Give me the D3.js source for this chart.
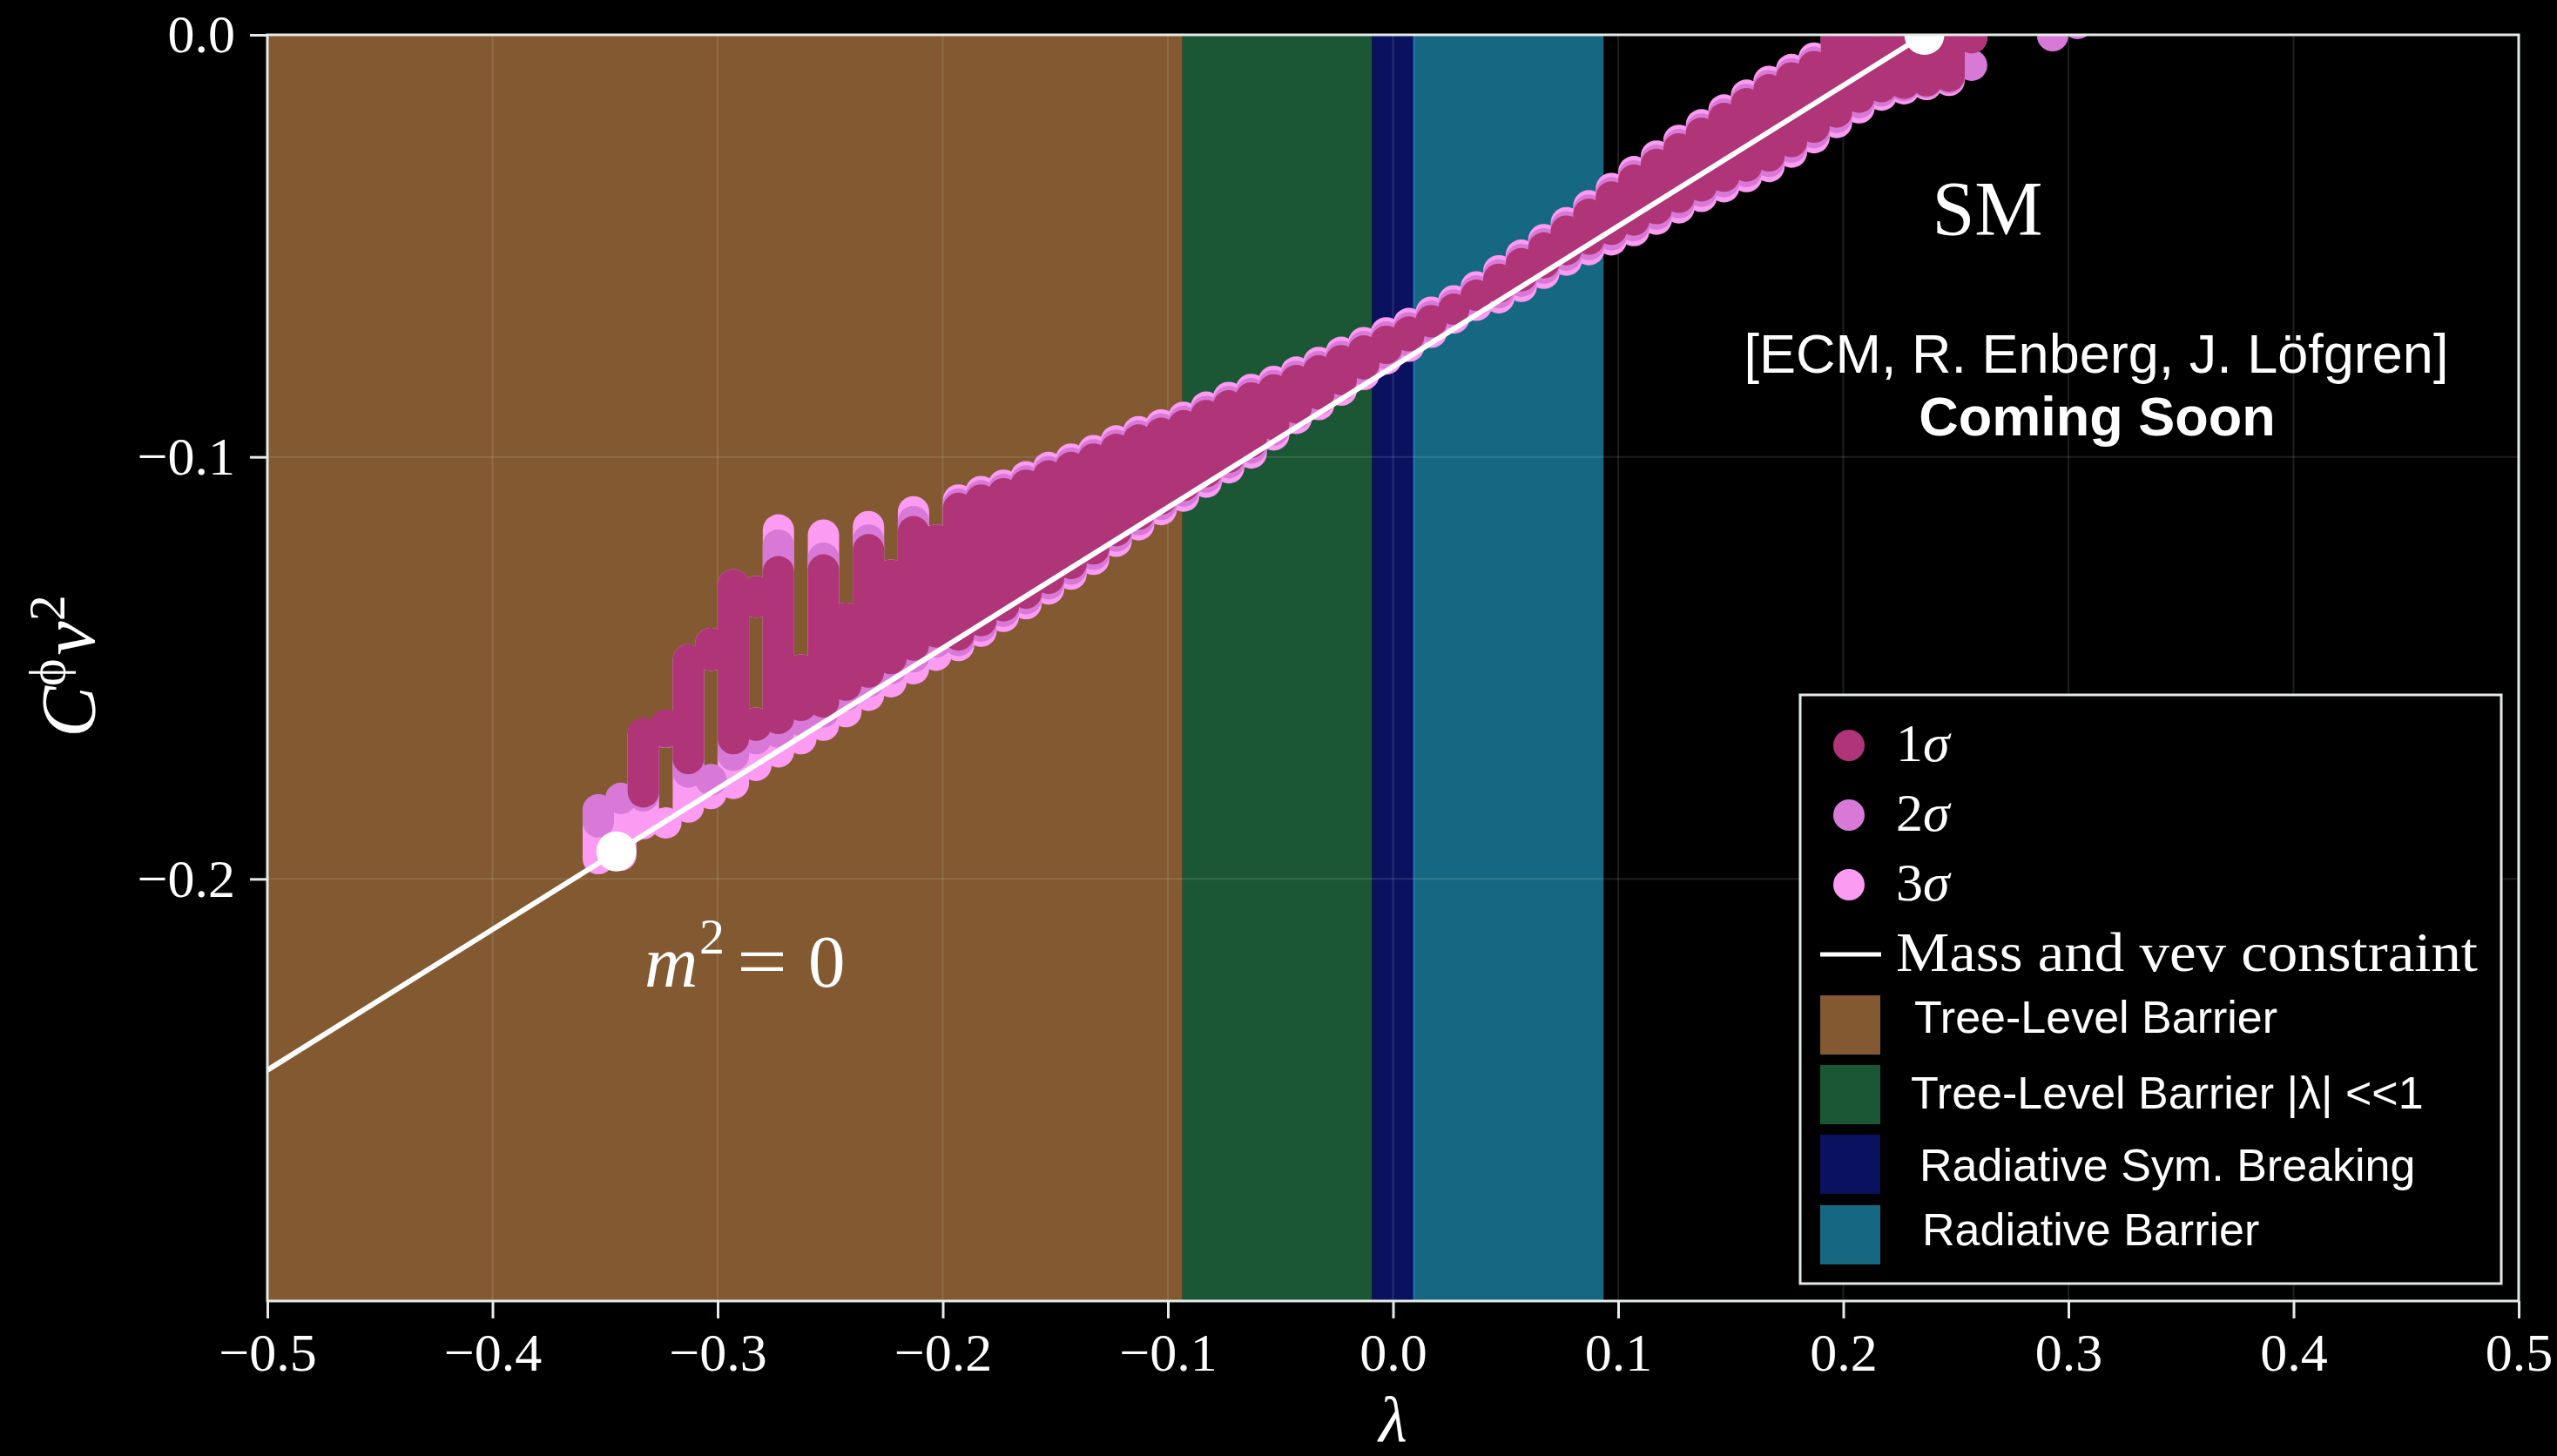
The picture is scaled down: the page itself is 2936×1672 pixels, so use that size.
<!DOCTYPE html>
<html>
<head>
<meta charset="utf-8">
<script src="https://cdn.jsdelivr.net/npm/d3@7"></script>
<style>
  html, body { margin: 0; padding: 0; background: #000; }
  svg { display: block; }
</style>
</head>
<body>
<svg id="chart" width="2936" height="1672"></svg>
<script>
// ---- axis ticks ----
const xTicks = [-0.5, -0.4, -0.3, -0.2, -0.1, 0.0, 0.1, 0.2, 0.3, 0.4, 0.5];
const yTicks = [0.0, -0.1, -0.2];

// ---- shaded regimes along λ ----
const regionNames = ["Tree-Level Barrier", "Tree-Level Barrier |λ| <<1", "Radiative Sym. Breaking", "Radiative Barrier"];
const regionFrom  = [-0.5, -0.0935, -0.0093, 0.0093];
const regionTo    = [-0.0935, -0.0093, 0.0093, 0.0935];

// ---- mass and vev constraint ----
const constraintLambda = [-0.5, 0.236];
const constraintC      = [-0.2453, 0.0];

// ---- benchmark points (m^2 = 0 and SM) ----
const benchLambda = [-0.345, 0.236];
const benchC      = [-0.1935, 0.0];

// ---- scan results: [λ, top of point cloud, bottom of point cloud] in C^φ v^2 ----
const sigmaLabels = ["1", "2", "3"];

const sigma3 = [
  [-0.353,-0.1800,-0.1989],[-0.343,-0.1780,-0.1981],[-0.333,-0.1620,-0.1906],
  [-0.323,-0.1600,-0.1690],[-0.323,-0.1830,-0.1885],[-0.313,-0.1444,-0.1867],
  [-0.303,-0.1405,-0.1507],[-0.303,-0.1728,-0.1835],[-0.293,-0.1266,-0.1811],
  [-0.283,-0.1282,-0.1381],[-0.283,-0.1594,-0.1768],[-0.273,-0.1136,-0.1736],
  [-0.263,-0.1468,-0.1705],[-0.253,-0.1148,-0.1673],[-0.243,-0.1345,-0.1641],
  [-0.233,-0.1128,-0.1602],[-0.223,-0.1243,-0.1570],[-0.213,-0.1093,-0.1539],
  [-0.203,-0.1160,-0.1507],[-0.193,-0.1065,-0.1484],[-0.183,-0.1045,-0.1450],
  [-0.173,-0.1030,-0.1415],[-0.163,-0.1010,-0.1385],[-0.153,-0.0988,-0.1350],
  [-0.143,-0.0968,-0.1315],[-0.133,-0.0948,-0.1280],[-0.123,-0.0925,-0.1237],
  [-0.113,-0.0903,-0.1198],[-0.103,-0.0887,-0.1162],[-0.093,-0.0869,-0.1130],
  [-0.083,-0.0845,-0.1097],[-0.073,-0.0822,-0.1063],[-0.063,-0.0803,-0.1028],
  [-0.053,-0.0784,-0.0985],[-0.043,-0.0762,-0.0946],[-0.033,-0.0739,-0.0913],
  [-0.023,-0.0715,-0.0879],[-0.013,-0.0692,-0.0842],[-0.003,-0.0669,-0.0805],
  [0.007,-0.0647,-0.0775],[0.017,-0.0620,-0.0742],[0.027,-0.0593,-0.0708],
  [0.037,-0.0560,-0.0678],[0.047,-0.0522,-0.0660],[0.057,-0.0485,-0.0633],
  [0.067,-0.0448,-0.0602],[0.077,-0.0408,-0.0571],[0.087,-0.0368,-0.0546],
  [0.097,-0.0327,-0.0523],[0.107,-0.0287,-0.0501],[0.117,-0.0250,-0.0474],
  [0.127,-0.0213,-0.0447],[0.137,-0.0176,-0.0420],[0.147,-0.0141,-0.0397],
  [0.157,-0.0106,-0.0373],[0.167,-0.0073,-0.0349],[0.177,-0.0045,-0.0315],
  [0.187,-0.0018,-0.0281],[0.197,0.0030,-0.0245],[0.207,0.0030,-0.0210],
  [0.217,0.0030,-0.0180],[0.227,0.0030,-0.0165],[0.237,0.0030,-0.0155],
  [0.247,0.0030,-0.0145],[0.257,0.0030,-0.0025]
];

const sigma2 = [
  [-0.353,-0.1799,-0.1902],[-0.343,-0.1772,-0.1843],[-0.333,-0.1625,-0.1840],
  [-0.323,-0.1600,-0.1690],[-0.313,-0.1448,-0.1784],[-0.303,-0.1405,-0.1507],
  [-0.303,-0.1728,-0.1768],[-0.293,-0.1268,-0.1744],[-0.283,-0.1282,-0.1381],
  [-0.283,-0.1594,-0.1705],[-0.273,-0.1172,-0.1689],[-0.263,-0.1468,-0.1661],
  [-0.253,-0.1203,-0.1641],[-0.243,-0.1345,-0.1602],[-0.233,-0.1160,-0.1570],
  [-0.223,-0.1243,-0.1539],[-0.213,-0.1116,-0.1511],[-0.203,-0.1160,-0.1476],
  [-0.193,-0.1075,-0.1472],[-0.183,-0.1055,-0.1438],[-0.173,-0.1040,-0.1403],
  [-0.163,-0.1020,-0.1373],[-0.153,-0.0998,-0.1338],[-0.143,-0.0978,-0.1303],
  [-0.133,-0.0958,-0.1268],[-0.123,-0.0935,-0.1225],[-0.113,-0.0913,-0.1186],
  [-0.103,-0.0897,-0.1150],[-0.093,-0.0879,-0.1118],[-0.083,-0.0855,-0.1085],
  [-0.073,-0.0832,-0.1051],[-0.063,-0.0813,-0.1016],[-0.053,-0.0794,-0.0973],
  [-0.043,-0.0772,-0.0934],[-0.033,-0.0749,-0.0901],[-0.023,-0.0725,-0.0867],
  [-0.013,-0.0702,-0.0830],[-0.003,-0.0679,-0.0793],[0.007,-0.0657,-0.0763],
  [0.017,-0.0630,-0.0730],[0.027,-0.0603,-0.0696],[0.037,-0.0570,-0.0666],
  [0.047,-0.0532,-0.0648],[0.057,-0.0495,-0.0621],[0.067,-0.0458,-0.0590],
  [0.077,-0.0418,-0.0559],[0.087,-0.0378,-0.0534],[0.097,-0.0337,-0.0511],
  [0.107,-0.0297,-0.0489],[0.117,-0.0260,-0.0462],[0.127,-0.0223,-0.0435],
  [0.137,-0.0186,-0.0408],[0.147,-0.0151,-0.0385],[0.157,-0.0116,-0.0361],
  [0.167,-0.0083,-0.0337],[0.177,-0.0055,-0.0303],[0.187,-0.0028,-0.0269],
  [0.197,0.0030,-0.0233],[0.207,0.0030,-0.0198],[0.217,0.0030,-0.0170],
  [0.227,0.0030,-0.0158],[0.237,0.0030,-0.0150],[0.247,0.0030,-0.0140],
  [0.257,-0.0035,-0.0086],[0.293,0.0035,-0.0039],[0.304,0.0064,-0.0010]
];

const sigma1 = [
  [-0.333,-0.1618,-0.1831],[-0.323,-0.1598,-0.1689],[-0.313,-0.1444,-0.1752],
  [-0.303,-0.1405,-0.1507],[-0.293,-0.1266,-0.1705],[-0.283,-0.1282,-0.1381],
  [-0.283,-0.1594,-0.1673],[-0.273,-0.1235,-0.1657],[-0.263,-0.1468,-0.1626],
  [-0.253,-0.1231,-0.1618],[-0.243,-0.1345,-0.1578],[-0.233,-0.1183,-0.1547],
  [-0.223,-0.1243,-0.1515],[-0.213,-0.1140,-0.1483],[-0.203,-0.1160,-0.1452],
  [-0.193,-0.1085,-0.1459],[-0.183,-0.1065,-0.1425],[-0.173,-0.1050,-0.1390],
  [-0.163,-0.1030,-0.1360],[-0.153,-0.1008,-0.1325],[-0.143,-0.0988,-0.1290],
  [-0.133,-0.0968,-0.1255],[-0.123,-0.0945,-0.1212],[-0.113,-0.0923,-0.1173],
  [-0.103,-0.0907,-0.1137],[-0.093,-0.0889,-0.1105],[-0.083,-0.0865,-0.1072],
  [-0.073,-0.0842,-0.1038],[-0.063,-0.0823,-0.1003],[-0.053,-0.0804,-0.0960],
  [-0.043,-0.0782,-0.0921],[-0.033,-0.0759,-0.0888],[-0.023,-0.0735,-0.0854],
  [-0.013,-0.0712,-0.0817],[-0.003,-0.0689,-0.0780],[0.007,-0.0667,-0.0750],
  [0.017,-0.0640,-0.0717],[0.027,-0.0613,-0.0683],[0.037,-0.0580,-0.0653],
  [0.047,-0.0542,-0.0635],[0.057,-0.0505,-0.0608],[0.067,-0.0468,-0.0577],
  [0.077,-0.0428,-0.0546],[0.087,-0.0388,-0.0521],[0.097,-0.0347,-0.0498],
  [0.107,-0.0307,-0.0476],[0.117,-0.0270,-0.0449],[0.127,-0.0233,-0.0422],
  [0.137,-0.0196,-0.0395],[0.147,-0.0161,-0.0372],[0.157,-0.0126,-0.0348],
  [0.167,-0.0093,-0.0324],[0.177,-0.0065,-0.0290],[0.187,-0.0038,-0.0256],
  [0.197,0.0030,-0.0220],[0.207,0.0030,-0.0185],[0.217,0.0030,-0.0160],
  [0.227,0.0030,-0.0152],[0.237,0.0030,-0.0146],[0.247,0.0030,-0.0135],
  [0.257,0.0030,-0.0025]
];

// ---- styling ----
const regionColors = ["#825930", "#1b5734", "#0a1260", "#166882"];
const sigmaColors = ["#b03578", "#d879d8", "#fc9bf2"];
const serif = "'Liberation Serif', 'DejaVu Serif', serif";
const sans = "'Liberation Sans', Arial, sans-serif";
const frameColor = "#e3ebe7";

const svg = d3.select("#chart");
const plot = { left: 307, right: 2892, top: 40, bottom: 1494 };
const x = d3.scaleLinear().domain([-0.5, 0.5]).range([plot.left, plot.right]);
const y = d3.scaleLinear().domain([-0.3, 0.0]).range([plot.bottom, plot.top]);
const dotR = 18;

svg.append("rect").attr("width", 2936).attr("height", 1672).attr("fill", "#000");

svg.append("defs").append("clipPath").attr("id", "plot-clip")
  .append("rect")
  .attr("x", plot.left).attr("y", plot.top)
  .attr("width", plot.right - plot.left).attr("height", plot.bottom - plot.top);

const inner = svg.append("g").attr("clip-path", "url(#plot-clip)");

// shaded regimes
inner.append("g").selectAll("rect")
  .data(regionNames.map((n, i) => ({ name: n, from: regionFrom[i], to: regionTo[i], color: regionColors[i] })))
  .join("rect")
  .attr("x", d => x(d.from))
  .attr("width", d => x(d.to) - x(d.from))
  .attr("y", y(0)).attr("height", y(-0.3) - y(0))
  .attr("fill", d => d.color);

// thin bright edge where the radiative barrier band starts
inner.append("line")
  .attr("x1", x(regionFrom[3])).attr("x2", x(regionFrom[3]))
  .attr("y1", y(0)).attr("y2", y(-0.3))
  .attr("stroke", "#2c7fc2").attr("stroke-width", 2).attr("opacity", 0.8);

// grid
const grid = inner.append("g").attr("stroke", "#d6f2e6").attr("stroke-opacity", 0.13).attr("stroke-width", 2);
grid.selectAll(".gx").data(xTicks).join("line")
  .attr("x1", d => x(d)).attr("x2", d => x(d))
  .attr("y1", plot.top).attr("y2", plot.bottom);
grid.selectAll(".gy").data(yTicks).join("line")
  .attr("y1", d => y(d)).attr("y2", d => y(d))
  .attr("x1", plot.left).attr("x2", plot.right);

// scan points, widest confidence level first
function drawCloud(data, color) {
  inner.append("g").selectAll("rect")
    .data(data)
    .join("rect")
    .attr("x", d => x(d[0]) - dotR)
    .attr("width", 2 * dotR)
    .attr("y", d => y(d[1]))
    .attr("height", d => Math.max(2 * dotR, y(d[2]) - y(d[1])))
    .attr("rx", dotR).attr("ry", dotR)
    .attr("fill", color);
}
drawCloud(sigma3, sigmaColors[2]);
drawCloud(sigma2, sigmaColors[1]);
drawCloud(sigma1, sigmaColors[0]);

// constraint line
inner.append("path")
  .datum(constraintLambda.map((l, i) => [l, constraintC[i]]))
  .attr("d", d3.line().x(d => x(d[0])).y(d => y(d[1])))
  .attr("fill", "none").attr("stroke", "#fff").attr("stroke-width", 6);

// benchmark points
inner.append("g").selectAll("circle")
  .data(benchLambda.map((l, i) => [l, benchC[i]]))
  .join("circle")
  .attr("cx", d => x(d[0])).attr("cy", d => y(d[1]))
  .attr("r", 23).attr("fill", "#fff");

// frame
svg.append("rect")
  .attr("x", plot.left).attr("y", plot.top)
  .attr("width", plot.right - plot.left).attr("height", plot.bottom - plot.top)
  .attr("fill", "none").attr("stroke", frameColor).attr("stroke-width", 3);

// axes
const fmt = d3.format(".1f");
const xAxis = svg.append("g").attr("transform", `translate(0,${plot.bottom})`)
  .call(d3.axisBottom(x).tickValues(xTicks).tickFormat(fmt).tickSize(20).tickPadding(16));
const yAxis = svg.append("g").attr("transform", `translate(${plot.left},0)`)
  .call(d3.axisLeft(y).tickValues(yTicks).tickFormat(fmt).tickSize(20).tickPadding(17));
[xAxis, yAxis].forEach(ax => {
  ax.select(".domain").remove();
  ax.selectAll(".tick line").attr("stroke", frameColor).attr("stroke-width", 3);
  ax.selectAll(".tick text")
    .attr("fill", "#fff")
    .style("font-family", serif)
    .style("font-size", "62px");
});

// axis titles
svg.append("text")
  .attr("x", (plot.left + plot.right) / 2).attr("y", 1655)
  .attr("text-anchor", "middle")
  .style("font-family", serif).style("font-size", "75px").style("font-style", "italic")
  .attr("fill", "#fff").text("λ");

const yTitle = svg.append("text")
  .attr("transform", "translate(108,765) rotate(-90)")
  .attr("text-anchor", "middle")
  .style("font-family", serif).style("font-size", "88px")
  .attr("fill", "#fff");
yTitle.append("tspan").style("font-style", "italic").text("C");
yTitle.append("tspan").style("font-size", "60px").attr("dy", -34).text("ϕ");
yTitle.append("tspan").style("font-style", "italic").attr("dy", 34).attr("dx", 4).text("v");
yTitle.append("tspan").style("font-size", "60px").attr("dy", -34).text("2");

// annotations
const m2 = svg.append("text")
  .attr("y", 1133)
  .style("font-family", serif).style("font-size", "85px")
  .attr("fill", "#fff");
m2.append("tspan").attr("x", 740).style("font-style", "italic").text("m");
m2.append("tspan").attr("x", 803).attr("dy", -38).style("font-size", "58px").text("2");
m2.append("tspan").attr("x", 846).attr("dy", 38).attr("textLength", 58).attr("lengthAdjust", "spacingAndGlyphs").text("=");
m2.append("tspan").attr("x", 928).text("0");

svg.append("text")
  .attr("x", 2282).attr("y", 269).attr("text-anchor", "middle")
  .style("font-family", serif).style("font-size", "88px")
  .attr("fill", "#fff").text("SM");

svg.append("text")
  .attr("x", 2407).attr("y", 428).attr("text-anchor", "middle")
  .style("font-family", sans).style("font-size", "63px")
  .attr("fill", "#fff").text("[ECM, R. Enberg, J. Löfgren]");
svg.append("text")
  .attr("x", 2408).attr("y", 500).attr("text-anchor", "middle")
  .style("font-family", sans).style("font-size", "63px").style("font-weight", "bold")
  .attr("fill", "#fff").text("Coming Soon");

// legend
const lg = svg.append("g");
lg.append("rect")
  .attr("x", 2067).attr("y", 798).attr("width", 805).attr("height", 676)
  .attr("fill", "#000").attr("stroke", frameColor).attr("stroke-width", 3);

const sigmaRows = [856, 936, 1016];
sigmaLabels.forEach((lab, i) => {
  lg.append("circle").attr("cx", 2123).attr("cy", sigmaRows[i]).attr("r", dotR).attr("fill", sigmaColors[i]);
  const t = lg.append("text").attr("x", 2177).attr("y", sigmaRows[i] + 18)
    .style("font-family", serif).style("font-size", "62px").attr("fill", "#fff");
  t.append("tspan").text(lab);
  t.append("tspan").style("font-style", "italic").text("σ");
});

lg.append("line").attr("x1", 2090).attr("x2", 2160).attr("y1", 1096).attr("y2", 1096)
  .attr("stroke", "#fff").attr("stroke-width", 5);
lg.append("text").attr("x", 2177).attr("y", 1115)
  .attr("textLength", 668).attr("lengthAdjust", "spacingAndGlyphs")
  .style("font-family", serif).style("font-size", "64px").attr("fill", "#fff")
  .text("Mass and vev constraint");

const patchTop = [1143, 1223, 1303, 1384];
const patchTextX = [2198, 2194, 2204, 2207];
const patchTextY = [1186, 1273, 1356, 1430];
regionNames.forEach((name, i) => {
  lg.append("rect").attr("x", 2090).attr("y", patchTop[i]).attr("width", 69).attr("height", 68)
    .attr("fill", regionColors[i]);
  lg.append("text").attr("x", patchTextX[i]).attr("y", patchTextY[i])
    .style("font-family", sans).style("font-size", "52px").attr("fill", "#fff")
    .text(name);
});
</script>
</body>
</html>
